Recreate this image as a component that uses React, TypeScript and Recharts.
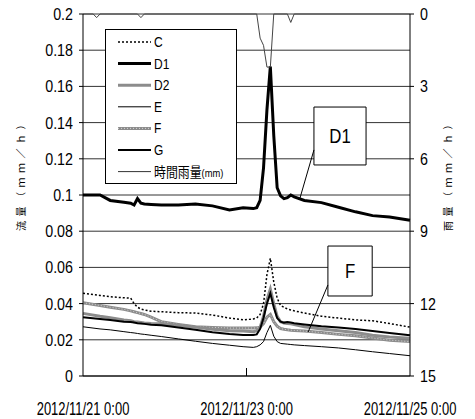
import {
  CartesianGrid,
  Line,
  LineChart,
  ReferenceArea,
  ReferenceLine,
  XAxis,
  YAxis,
} from "recharts";

const FONT = "'Liberation Sans', Arial, sans-serif";
const JP = "'Noto Sans CJK JP', sans-serif";

// hours since 2012/11/21 0:00
const hours = [0, 5, 8, 12, 14, 15, 16, 17, 18, 20, 23, 28, 33, 38, 43, 47, 50, 51, 52, 53, 54, 55, 56, 57, 58, 59, 60, 61, 62, 65, 70, 75, 80, 85, 90, 96];

const seriesC = [0.0457, 0.0445, 0.0438, 0.0432, 0.043, 0.04, 0.038, 0.037, 0.0365, 0.0358, 0.0355, 0.035, 0.0348, 0.0337, 0.032, 0.031, 0.0315, 0.032, 0.034, 0.04, 0.056, 0.065, 0.052, 0.043, 0.039, 0.038, 0.037, 0.0365, 0.036, 0.0348, 0.033, 0.032, 0.031, 0.0305, 0.029, 0.027];
const seriesD1 = [0.1, 0.1, 0.097, 0.096, 0.0955, 0.0945, 0.098, 0.0955, 0.095, 0.0948, 0.0945, 0.0945, 0.095, 0.094, 0.0917, 0.093, 0.0925, 0.093, 0.097, 0.115, 0.147, 0.171, 0.133, 0.104, 0.0995, 0.098, 0.0985, 0.1, 0.099, 0.097, 0.0958, 0.0932, 0.0907, 0.0886, 0.0878, 0.086];
const seriesD2 = [0.0346, 0.033, 0.0322, 0.031, 0.0305, 0.03, 0.0298, 0.0296, 0.0293, 0.029, 0.0288, 0.028, 0.027, 0.0258, 0.025, 0.0248, 0.0245, 0.025, 0.027, 0.033, 0.042, 0.048, 0.04, 0.033, 0.03, 0.0292, 0.029, 0.0288, 0.0285, 0.0272, 0.026, 0.025, 0.024, 0.0225, 0.0215, 0.0208];
const seriesE = [0.0272, 0.026, 0.0255, 0.0245, 0.024, 0.0238, 0.0235, 0.0232, 0.023, 0.0225, 0.0218, 0.0205, 0.0192, 0.018, 0.017, 0.0162, 0.0158, 0.0162, 0.0172, 0.019, 0.024, 0.028, 0.022, 0.019, 0.018, 0.0178, 0.0176, 0.0174, 0.0172, 0.0168, 0.0162, 0.0155, 0.0145, 0.0134, 0.0124, 0.0112];
const seriesF = [0.0405, 0.039, 0.038, 0.0368, 0.036, 0.0355, 0.035, 0.0345, 0.034, 0.0325, 0.03, 0.0285, 0.0272, 0.0268, 0.0265, 0.0265, 0.0265, 0.0266, 0.027, 0.029, 0.0325, 0.034, 0.03, 0.0275, 0.0262, 0.0258, 0.0255, 0.0253, 0.0252, 0.0248, 0.024, 0.023, 0.0222, 0.021, 0.0198, 0.019];
const seriesG = [0.0324, 0.0315, 0.031, 0.03, 0.0298, 0.0295, 0.0292, 0.029, 0.0288, 0.0283, 0.028, 0.0268, 0.0255, 0.0242, 0.0232, 0.0227, 0.0227, 0.023, 0.026, 0.032, 0.04, 0.0457, 0.038, 0.032, 0.03, 0.0295, 0.0298, 0.0296, 0.0292, 0.0285, 0.0275, 0.0268, 0.026, 0.0248, 0.0238, 0.0225];

const rainHours = [0, 3, 4, 5, 16, 17, 18, 51, 52, 53, 54, 55, 56, 60, 61, 62, 96];
const rainValues = [0, 0, 0.15, 0, 0, 0.15, 0, 0, 1.0, 1.3, 2.2, 2.2, 0, 0, 0.35, 0, 0];

const flowTicks = [0, 0.02, 0.04, 0.06, 0.08, 0.1, 0.12, 0.14, 0.16, 0.18, 0.2];
const rainTicks = [0, 3, 6, 9, 12, 15];
const timeTicks = [0, 48, 96];
const timeLabels = ["2012/11/21 0:00", "2012/11/23 0:00", "2012/11/25 0:00"];

const flowData = hours.map((h, i) => ({
  h,
  C: seriesC[i],
  D1: seriesD1[i],
  D2: seriesD2[i],
  E: seriesE[i],
  F: seriesF[i],
  G: seriesG[i],
}));
const rainData = rainHours.map((h, i) => ({ h, rain: rainValues[i] }));

// annotation boxes in data units (hours, flow)
const boxD1 = { x1: 67.8, x2: 83.1, y1: 0.1166, y2: 0.1486 };
const leaderD1 = [{ x: 67.8, y: 0.1249 }, { x: 63.7, y: 0.0983 }];
const boxF = { x1: 71.9, x2: 84.9, y1: 0.0442, y2: 0.0718 };
const leaderF = [{ x: 71.9, y: 0.0503 }, { x: 66.1, y: 0.0243 }];

const legendItems = [
  { name: "C", stroke: "#000", width: 1.5, dash: "2 2" },
  { name: "D1", stroke: "#000", width: 3 },
  { name: "D2", stroke: "#8c8c8c", width: 3 },
  { name: "E", stroke: "#000", width: 1 },
  { name: "F", stroke: "#8c8c8c", width: 3, overlay: true },
  { name: "G", stroke: "#000", width: 2 },
  { name: "時間雨量", stroke: "#333", width: 1, unit: "(mm)" },
];

// narrow text: regular sans squeezed horizontally
function Narrow({ x, y, size, anchor, children, dy, squeeze = 0.8 }: any) {
  return (
    <text
      transform={`translate(${x},${y}) scale(${squeeze},1)`}
      textAnchor={anchor}
      dy={dy}
      fontSize={size}
      fontFamily={FONT}
      fill="#000"
    >
      {children}
    </text>
  );
}

function TimeTick(props: any) {
  const { x, y, payload } = props;
  const idx = timeTicks.indexOf(payload.value);
  return (
    <g>
      {idx === 1 && <line x1={x} x2={x} y1={y - 8} y2={y} stroke="#000" />}
      <Narrow x={x} y={y + 39} size={18} squeeze={0.72} anchor="middle">
        {timeLabels[idx]}
      </Narrow>
    </g>
  );
}

function FlowTick(props: any) {
  const { x, y, payload } = props;
  return (
    <Narrow x={x} y={y} size={17} squeeze={0.84} anchor="end" dy="0.355em">
      {String(payload.value)}
    </Narrow>
  );
}

function RainTick(props: any) {
  const { x, y, payload } = props;
  return (
    <Narrow x={x} y={y} size={17} squeeze={0.84} anchor="start" dy="0.355em">
      {String(payload.value)}
    </Narrow>
  );
}

function BoxLabel(props: any) {
  const { viewBox, text } = props;
  const cx = viewBox.x + viewBox.width / 2;
  const cy = viewBox.y + viewBox.height / 2;
  return (
    <Narrow x={cx} y={cy} size={21} anchor="middle" dy="0.355em">
      {text}
    </Narrow>
  );
}

export default function App() {
  return (
    <div style={{ position: "absolute", left: 0, top: 0, width: 475, height: 419, background: "#fff" }}>
      <LineChart width={475} height={419} data={flowData} margin={{ top: 14, right: 15, bottom: 3, left: 23 }}>
        <CartesianGrid yAxisId="left" vertical={false} stroke="#333" />
        <XAxis
          dataKey="h"
          type="number"
          domain={[0, 96]}
          ticks={timeTicks}
          interval={0}
          tickSize={0}
          tickMargin={0}
          tickLine={false}
          tick={<TimeTick />}
          height={40}
          axisLine={{ stroke: "#000" }}
        />
        <YAxis
          yAxisId="left"
          domain={[0, 0.2]}
          ticks={flowTicks}
          interval={0}
          width={60}
          tickSize={4}
          tickMargin={6}
          tickLine={{ stroke: "#000" }}
          axisLine={{ stroke: "#000" }}
          tick={<FlowTick />}
        />
        <YAxis
          yAxisId="right"
          orientation="right"
          reversed
          domain={[0, 15]}
          ticks={rainTicks}
          interval={0}
          width={50}
          tickSize={4}
          tickMargin={6}
          tickLine={{ stroke: "#000" }}
          axisLine={{ stroke: "#000" }}
          tick={<RainTick />}
        />
        <Line yAxisId="left" dataKey="E" stroke="#000" strokeWidth={1} dot={false} isAnimationActive={false} />
        <Line yAxisId="left" dataKey="F" stroke="#8c8c8c" strokeWidth={3} dot={false} isAnimationActive={false} />
        <Line yAxisId="left" dataKey="F" stroke="#d4d4d4" strokeWidth={1} strokeDasharray="1 2" dot={false} isAnimationActive={false} legendType="none" />
        <Line yAxisId="left" dataKey="D2" stroke="#8c8c8c" strokeWidth={3} dot={false} isAnimationActive={false} />
        <Line yAxisId="left" dataKey="G" stroke="#000" strokeWidth={2} dot={false} isAnimationActive={false} />
        <Line yAxisId="left" dataKey="C" stroke="#000" strokeWidth={1.5} strokeDasharray="2 2" dot={false} isAnimationActive={false} />
        <Line yAxisId="left" dataKey="D1" stroke="#000" strokeWidth={3} dot={false} isAnimationActive={false} />
        <Line yAxisId="right" data={rainData} dataKey="rain" stroke="#444" strokeWidth={1} dot={false} isAnimationActive={false} />
        <ReferenceArea
          yAxisId="left"
          {...boxD1}
          fill="#fff"
          fillOpacity={1}
          stroke="#000"
          strokeWidth={1}
          label={<BoxLabel text="D1" />}
        />
        <ReferenceLine yAxisId="left" segment={leaderD1} stroke="#000" strokeWidth={1} />
        <ReferenceArea
          yAxisId="left"
          {...boxF}
          fill="#fff"
          fillOpacity={1}
          stroke="#000"
          strokeWidth={1}
          label={<BoxLabel text="F" />}
        />
        <ReferenceLine yAxisId="left" segment={leaderF} stroke="#000" strokeWidth={1} />
      </LineChart>

      <svg width={475} height={419} style={{ position: "absolute", left: 0, top: 0, pointerEvents: "none" }}>
        <rect x={105.5} y={29.5} width={131} height={154} fill="#fff" stroke="#000" />
        {legendItems.map((it, i) => {
          const y = 42 + i * 21.6;
          return (
            <g key={it.name}>
              <line x1={118} x2={151} y1={y} y2={y} stroke={it.stroke} strokeWidth={it.width} strokeDasharray={it.dash} />
              {it.overlay && <line x1={118} x2={151} y1={y} y2={y} stroke="#d4d4d4" strokeWidth={1} strokeDasharray="1 2" />}
              {it.unit ? (
                <g transform={`translate(154,${y + 5}) scale(0.85,1)`}>
                  <text fontSize={14} fontFamily={JP} fill="#000">
                    {it.name}
                    <tspan fontSize={11} fontFamily={FONT}>{it.unit}</tspan>
                  </text>
                </g>
              ) : (
                <Narrow x={154} y={y + 5} size={15} anchor="start">
                  {it.name}
                </Narrow>
              )}
            </g>
          );
        })}
        <text
          x={20}
          y={173}
          transform="rotate(-90 20 173)"
          textAnchor="middle"
          dominantBaseline="central"
          fontSize={10}
          letterSpacing={4.5}
          fontFamily={JP}
          fill="#000"
        >
          流量（ｍｍ／ｈ）
        </text>
        <text
          x={447}
          y={173}
          transform="rotate(-90 447 173)"
          textAnchor="middle"
          dominantBaseline="central"
          fontSize={10}
          letterSpacing={4.5}
          fontFamily={JP}
          fill="#000"
        >
          雨量（ｍｍ／ｈ）
        </text>
      </svg>
    </div>
  );
}
